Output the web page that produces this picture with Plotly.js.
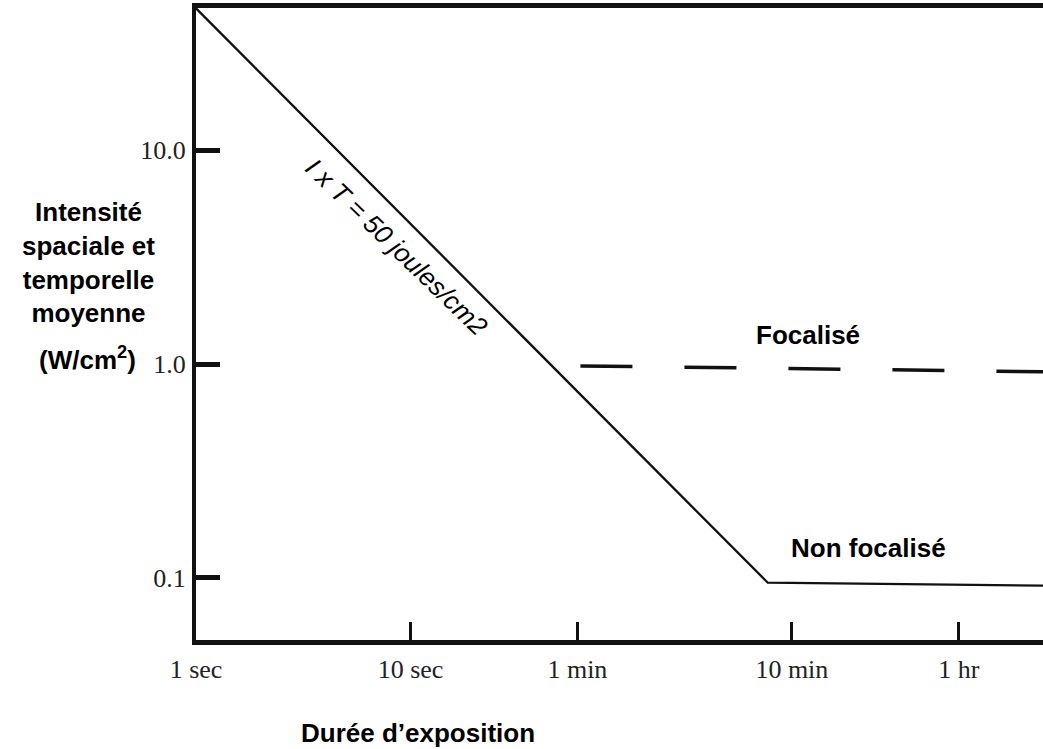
<!DOCTYPE html>
<html>
<head>
<meta charset="utf-8">
<script src="https://cdn.plot.ly/plotly-3.0.1.min.js"></script>
<style>html,body{margin:0;padding:0;background:#fff;}#chart{width:1043px;height:749px;}</style>
</head>
<body>
<div id="chart"></div>
<script>
// Exposure limit: I x T = 50 J/cm2, then flat "Non focalisé" limit
const limitTime = [1, 463, 8900];          // seconds
const limitIntensity = [46, 0.095, 0.092]; // W/cm2
// "Focalisé" limit (dashed)
const focusTime = [62, 8900];
const focusIntensity = [0.98, 0.92];
// Ticks
const xTickVals = [1, 10, 60, 600, 3600];
const xTickText = ['1 sec', '10 sec', '1 min', '10 min', '1 hr'];
const yTickVals = [0.1, 1, 10];
const yTickText = ['0.1', '1.0', '10.0'];

const ink = '#111';
const traces = [
  {x: limitTime, y: limitIntensity, mode: 'lines', line: {color: ink, width: 2.3}, hoverinfo: 'skip'},
  {x: focusTime, y: focusIntensity, mode: 'lines', line: {color: ink, width: 3.5, dash: '52px,52px'}, hoverinfo: 'skip'}
];

const boldFont = {family: 'Liberation Sans, Arial, sans-serif', size: 26, color: '#000'};
const tickFont = {family: 'Liberation Serif, Times New Roman, serif', size: 26, color: '#222'};
const layout = {
  width: 1043, height: 749,
  margin: {l: 196, r: 0, t: 8, b: 109},
  paper_bgcolor: '#fff', plot_bgcolor: '#fff',
  showlegend: false,
  xaxis: {
    type: 'log', range: [0, 3.949],
    showgrid: false, zeroline: false,
    showline: true, linecolor: ink, linewidth: 5, mirror: true,
    ticks: 'inside', ticklen: 18, tickwidth: 3, tickcolor: ink,
    tickvals: xTickVals, ticktext: xTickText,
    ticklabelstandoff: 2,
    tickfont: tickFont
  },
  yaxis: {
    type: 'log', range: [-1.29, 1.664],
    showgrid: false, zeroline: false,
    showline: true, linecolor: ink, linewidth: 4,
    ticks: 'inside', ticklen: 24, tickwidth: 5, tickcolor: ink,
    tickvals: yTickVals, ticktext: yTickText,
    ticklabelstandoff: 1,
    tickfont: tickFont
  },
  annotations: [
    {xref: 'x', yref: 'y', x: 0.935, y: 0.545, text: 'I x T = 50 joules/cm2', showarrow: false,
     textangle: 44, xanchor: 'center', yanchor: 'middle',
     font: {family: 'Liberation Sans, Arial, sans-serif', size: 26, color: '#000', style: 'italic'}},
    {xref: 'x', yref: 'y', x: 2.853, y: 0.136, text: '<b>Focalisé</b>', showarrow: false,
     xanchor: 'center', yanchor: 'middle', font: boldFont},
    {xref: 'x', yref: 'y', x: 3.137, y: -0.86, text: '<b>Non focalisé</b>', showarrow: false,
     xanchor: 'center', yanchor: 'middle', font: boldFont},
    {xref: 'paper', yref: 'paper', x: -0.1275, y: 0.598,
     text: '<b>Intensité<br>spaciale et<br>temporelle<br>moyenne</b>', showarrow: false,
     xanchor: 'center', yanchor: 'middle', align: 'center', font: boldFont},
    {xref: 'paper', yref: 'paper', x: -0.128, y: 0.445,
     text: '<b>(W/cm<sup>2</sup>)</b>', showarrow: false,
     xanchor: 'center', yanchor: 'middle', font: boldFont},
    {xref: 'paper', yref: 'paper', x: 0.262, y: -0.147,
     text: '<b>Durée d’exposition</b>', showarrow: false,
     xanchor: 'center', yanchor: 'middle', font: boldFont}
  ]
};
Plotly.newPlot('chart', traces, layout, {displayModeBar: false, staticPlot: true});
</script>
</body>
</html>
